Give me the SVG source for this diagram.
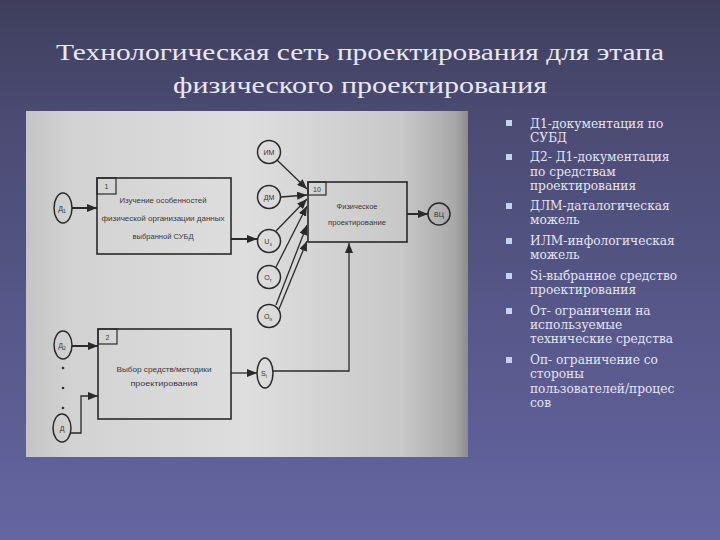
<svg xmlns="http://www.w3.org/2000/svg" width="720" height="540" viewBox="0 0 720 540">
<defs>
<linearGradient id="bg" x1="0" y1="0" x2="0" y2="1">
<stop offset="0" stop-color="#3e3e5c"/>
<stop offset="0.2" stop-color="#4a4a72"/>
<stop offset="1" stop-color="#6565a2"/>
</linearGradient>
<linearGradient id="paper" x1="0" y1="0" x2="1" y2="0">
<stop offset="0" stop-color="#c4c4c4"/>
<stop offset="0.1" stop-color="#d2d2d2"/>
<stop offset="0.5" stop-color="#dedede"/>
<stop offset="0.85" stop-color="#c8c8c8"/>
<stop offset="0.97" stop-color="#a8a8a8"/>
<stop offset="1" stop-color="#8c8c8c"/>
</linearGradient>
<marker id="ah" markerUnits="userSpaceOnUse" markerWidth="10" markerHeight="8" refX="10" refY="4" orient="auto">
<path d="M0,0 L10,4 L0,8 z" fill="#2a2a2a"/>
</marker>
<style>
.box{fill:none;stroke:#2a2a2a;stroke-width:1.6}
.nb{fill:none;stroke:#2a2a2a;stroke-width:1.2}
.node{fill:none;stroke:#2a2a2a;stroke-width:1.5}
.lbl{font-family:"Liberation Sans","DejaVu Sans",sans-serif;font-size:7.5px;fill:#3a3a3a;text-anchor:middle}
.num{font-family:"Liberation Sans","DejaVu Sans",sans-serif;font-size:7px;fill:#3a3a3a;text-anchor:middle}
.cl{font-family:"Liberation Sans","DejaVu Sans",sans-serif;font-size:7px;fill:#333;text-anchor:middle}
.sub{font-size:5px}
.ln{fill:none;stroke:#2a2a2a;stroke-width:1.3}
.thick{fill:none;stroke:#2a2a2a;stroke-width:2}
.title{font-family:"Liberation Serif","DejaVu Serif",serif;font-size:24px;fill:#e8e8f0;text-anchor:middle}
.bt{font-family:"DejaVu Serif","Liberation Serif",serif;font-size:12.2px;fill:#e4e4f0}
.bul{fill:#c8d0f0}
</style>
</defs>
<rect width="720" height="540" fill="url(#bg)"/>
<g id="title">
<text class="title" x="360" y="60" textLength="608" lengthAdjust="spacingAndGlyphs">Технологическая сеть проектирования для этапа</text>
<text class="title" x="360" y="93" textLength="374" lengthAdjust="spacingAndGlyphs">физического проектирования</text>
</g>
<rect x="26" y="111" width="442" height="346" fill="url(#paper)"/>
<g id="connectors">
<path class="thick" d="M72,208 L97,208" marker-end="url(#ah)"/>
<path class="thick" d="M231,239 L257,239" marker-end="url(#ah)"/>
<path class="ln" d="M277,160 L307,189" marker-end="url(#ah)"/>
<path class="ln" d="M281,197 L307,195" marker-end="url(#ah)"/>
<path class="ln" d="M276,231 L307,199" marker-end="url(#ah)"/>
<path class="ln" d="M276,267 L307,206" marker-end="url(#ah)"/>
<path class="ln" d="M276,305 L307,225" marker-end="url(#ah)"/>
<path class="ln" d="M279,309 L307,241" marker-end="url(#ah)"/>
<path class="thick" d="M407,214 L428,214" marker-end="url(#ah)"/>
<path class="thick" d="M72,346 L98,346" marker-end="url(#ah)"/>
<path class="ln" d="M71,433 L81,433 L81,396 L98,396" marker-end="url(#ah)"/>
<path class="ln" d="M231,373 L257,373" marker-end="url(#ah)"/>
<path class="ln" d="M273,371 L349,371 L349,243" marker-end="url(#ah)"/>
</g>
<g id="box1">
<rect class="box" x="97" y="178" width="134" height="76"/>
<rect class="nb" x="97" y="178" width="19" height="16"/>
<text class="num" x="106.5" y="189">1</text>
<text class="lbl" x="163" y="203" textLength="87" lengthAdjust="spacingAndGlyphs">Изучение особенностей</text>
<text class="lbl" x="163" y="221" textLength="123" lengthAdjust="spacingAndGlyphs">физической организации данных</text>
<text class="lbl" x="163" y="239" textLength="61" lengthAdjust="spacingAndGlyphs">выбранной СУБД</text>
</g>
<g id="box2">
<rect class="box" x="98" y="329" width="133" height="90"/>
<rect class="nb" x="98" y="329" width="19" height="15"/>
<text class="num" x="107.5" y="340">2</text>
<text class="lbl" x="164" y="372" textLength="95" lengthAdjust="spacingAndGlyphs">Выбор средств/методики</text>
<text class="lbl" x="164" y="386" textLength="67" lengthAdjust="spacingAndGlyphs">проектирования</text>
</g>
<g id="box10">
<rect class="box" x="308" y="182" width="99" height="60"/>
<rect class="nb" x="308" y="182" width="18" height="13"/>
<text class="num" x="317" y="191.5">10</text>
<text class="lbl" x="357" y="209" textLength="41" lengthAdjust="spacingAndGlyphs">Физическое</text>
<text class="lbl" x="357" y="225" textLength="58" lengthAdjust="spacingAndGlyphs">проектирование</text>
</g>
<g id="d1"><ellipse class="node" cx="63" cy="208" rx="9" ry="15"/><text class="cl" x="62" y="211">Д<tspan class="sub" dy="2">1</tspan></text></g>
<g id="d2"><ellipse class="node" cx="63" cy="345" rx="9" ry="14"/><text class="cl" x="62" y="348">Д<tspan class="sub" dy="2">2</tspan></text></g>
<g id="dots"><circle cx="63" cy="368" r="1.3" fill="#333"/><circle cx="63" cy="388" r="1.3" fill="#333"/><circle cx="63" cy="408" r="1.3" fill="#333"/></g>
<g id="dn"><ellipse class="node" cx="62" cy="428" rx="9" ry="14"/><text class="cl" x="62" y="431">Д</text></g>
<g id="im"><circle class="node" cx="269" cy="152" r="11.5"/><text class="cl" x="269" y="155">ИМ</text></g>
<g id="dm"><circle class="node" cx="269" cy="197" r="11.5"/><text class="cl" x="269" y="200">ДМ</text></g>
<g id="u3"><circle class="node" cx="269" cy="241" r="11.5"/><text class="cl" x="268" y="244">U<tspan class="sub" dy="2">з</tspan></text></g>
<g id="ot"><circle class="node" cx="269" cy="277" r="11.5"/><text class="cl" x="268" y="280">О<tspan class="sub" dy="2">т</tspan></text></g>
<g id="op"><circle class="node" cx="269" cy="316" r="11.5"/><text class="cl" x="268" y="319">О<tspan class="sub" dy="2">п</tspan></text></g>
<g id="si"><ellipse class="node" cx="265" cy="373" rx="8" ry="15"/><text class="cl" x="264" y="376">S<tspan class="sub" dy="2">i</tspan></text></g>
<g id="vc"><circle class="node" cx="439" cy="214" r="11"/><text class="cl" x="439" y="217">ВЦ</text></g>
<g id="legend">
<rect class="bul" x="506" y="120" width="6" height="6"/>
<rect class="bul" x="506" y="154" width="6" height="6"/>
<rect class="bul" x="506" y="203" width="6" height="6"/>
<rect class="bul" x="506" y="238" width="6" height="6"/>
<rect class="bul" x="506" y="273" width="6" height="6"/>
<rect class="bul" x="506" y="308" width="6" height="6"/>
<rect class="bul" x="506" y="357" width="6" height="6"/>
<text class="bt" x="530" y="128">Д1-документация по</text>
<text class="bt" x="530" y="142">СУБД</text>
<text class="bt" x="530" y="161">Д2- Д1-документация</text>
<text class="bt" x="530" y="176">по средствам</text>
<text class="bt" x="530" y="190">проектирования</text>
<text class="bt" x="530" y="210">ДЛМ-даталогическая</text>
<text class="bt" x="530" y="224">можель</text>
<text class="bt" x="530" y="245">ИЛМ-инфологическая</text>
<text class="bt" x="530" y="259">можель</text>
<text class="bt" x="530" y="280">Si-выбранное средство</text>
<text class="bt" x="530" y="294">проектирования</text>
<text class="bt" x="530" y="315">От- ограничени на</text>
<text class="bt" x="530" y="329">используемые</text>
<text class="bt" x="530" y="343">технические средства</text>
<text class="bt" x="530" y="364">Оп- ограничение со</text>
<text class="bt" x="530" y="378">стороны</text>
<text class="bt" x="530" y="393">пользователей/процес</text>
<text class="bt" x="530" y="407">сов</text>
</g>
</svg>
